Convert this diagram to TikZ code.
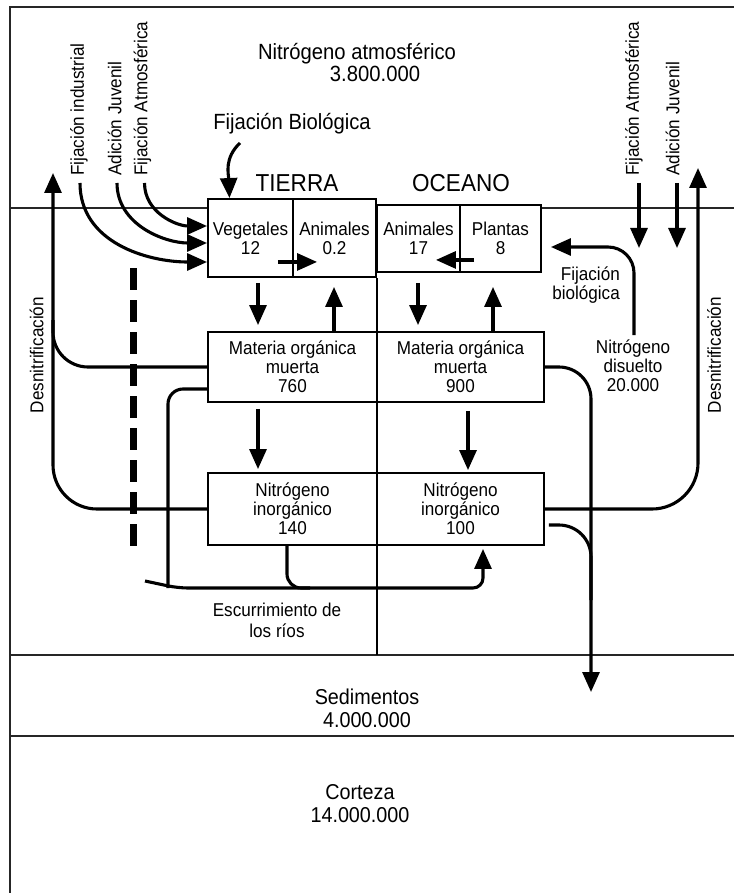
\documentclass[tikz,border=0pt]{standalone}
\usepackage{fontspec}
\setmainfont{Liberation Sans}[FakeStretch=0.92]
\usetikzlibrary{arrows.meta,calc}
\newcommand\txtA{\fontsize{18.6}{18.8}\selectfont}
\newcommand\txtB{\fontsize{21.5}{22.5}\selectfont}
\newcommand\txtC{\fontsize{22}{24}\selectfont}
\newcommand\txtD{\fontsize{24.5}{26}\selectfont}
\begin{document}
\begin{tikzpicture}[x=1pt,y=-1pt,
  rule/.style={line width=1.3pt, draw=black!85},
  cell/.style={draw, line width=1.9pt, inner sep=0pt, align=center, font=\txtA},
  flow/.style={line width=3.1pt, -{Triangle[length=20pt,width=17pt]}},
  pipe/.style={line width=3.1pt},
  lab/.style={inner sep=0pt, align=center, font=\txtA},
  vlab/.style={lab, rotate=90},
]
\useasboundingbox (0,0) rectangle (734,893);

% layer boundaries
\draw[rule] (10,893) -- (10,7) -- (734,7);
\draw[rule] (10,208) -- (208,208);
\draw[rule] (541,208) -- (734,208);
\draw[rule] (10,655) -- (734,655);
\draw[rule] (10,736) -- (734,736);

% reservoirs
\node[cell, minimum width=85pt, minimum height=78pt] (veg) at (250.5,238) {Vegetales\\12};
\node[cell, minimum width=83pt, minimum height=78pt] (anit) at (334.5,238) {Animales\\0.2};
\node[cell, minimum width=83pt, minimum height=67pt] (anio) at (418.5,238.5) {Animales\\17};
\node[cell, minimum width=81pt, minimum height=67pt] (plt) at (500.5,238.5) {Plantas\\8};
\node[cell, minimum width=169pt, minimum height=70pt] (momt) at (292.5,367) {Materia orgánica\\muerta\\760};
\node[cell, minimum width=167pt, minimum height=70pt] (momo) at (460.5,367) {Materia orgánica\\muerta\\900};
\node[cell, minimum width=169pt, minimum height=72pt] (nit) at (292.5,509) {Nitrógeno\\inorgánico\\140};
\node[cell, minimum width=167pt, minimum height=72pt] (nio) at (460.5,509) {Nitrógeno\\inorgánico\\100};

% land / ocean divider
\draw[line width=1.9pt] (377,0 |- anit.south) -- (377,655);

% titles and labels
\node[lab, font=\txtC, anchor=base] (atm) at (357,60) {Nitrógeno atmosférico};
\node[lab, font=\txtC, anchor=base] (atmq) at (375,82) {3.800.000};
\node[lab, font=\txtC, anchor=base] (fbio) at (292,130) {Fijación Biológica};
\node[lab, font=\txtD, anchor=base] (tierra) at (297,192) {TIERRA};
\node[lab, font=\txtD, anchor=base] (oceano) at (461,192) {OCEANO};
\node[lab, font=\txtB] (sed) at (367,708.5) {Sedimentos\\4.000.000};
\node[lab, font=\txtB] (crt) at (360,803.5) {Corteza\\14.000.000};
\node[lab, font=\fontsize{18.6}{21}\selectfont] (esc) at (277,620) {Escurrimiento de\\los ríos};
\node[lab, align=right, anchor=east] (fbo) at (620,285) {Fijación\\biológica};
\node[lab] (nd) at (633,366) {Nitrógeno\\disuelto\\20.000};

\node[vlab, anchor=west] (fi) at (79,176) {Fijación industrial};
\node[vlab, anchor=west] (aj) at (114.5,176) {Adición Juvenil};
\node[vlab, anchor=west] (fa) at (142.5,176) {Fijación Atmosférica};
\node[vlab, anchor=west] (fa2) at (634,176) {Fijación Atmosférica};
\node[vlab, anchor=west] (aj2) at (672.5,176) {Adición Juvenil};
\node[vlab] (dnl) at (36.5,355) {Desnitrificación};
\node[vlab] (dnr) at (714,355) {Desnitrificación};

% inputs from the atmosphere (land)
\draw[flow] ($(fi.west)+(1,7)$) .. controls +(0,60) and +(-59,0) .. ($(veg.west)+(0,24)$);
\draw[flow] ($(aj.west)+(2.5,7)$) .. controls +(0,42) and +(-42,0) .. ($(veg.west)+(0,5)$);
\draw[flow] ($(fa.west)+(2,7)$) .. controls +(0,30) and +(-30,0) .. ($(veg.west)+(0,-12)$);
\draw[flow] ($(fbio.base)+(-52,13)$) .. controls +(-16,15) and +(-1,-24) .. ($(veg.north)+(-21,0)$);

% inputs from the atmosphere (ocean)
\draw[flow] ($(fa2.west)+(5,7)$) -- ++(0,65);
\draw[flow] ($(aj2.west)+(4.5,7)$) -- ++(0,65);

% transfers between compartments
\draw[flow] ($(veg.south east)+(-16,-16)$) -- ($(anit.south west)+(25,-16)$);
\draw[flow] ($(plt.south west)+(15,-13)$) -- ($(anio.south east)+(-25,-13)$);
\draw[flow, shorten <=5pt, shorten >=6pt] (258,0 |- veg.south) -- (258,0 |- momt.north);
\draw[flow, shorten >=9pt] (334,0 |- momt.north) -- (334,0 |- anit.south);
\draw[flow, shorten <=10pt, shorten >=6pt] (418,0 |- anio.south) -- (418,0 |- momo.north);
\draw[flow, shorten >=14pt] (493,0 |- momo.north) -- (493,0 |- plt.south);
\draw[flow, shorten <=6pt, shorten >=3pt] (258,0 |- momt.south) -- (258,0 |- nit.north);
\draw[flow, shorten <=8pt, shorten >=2pt] (468,0 |- momo.south) -- (468,0 |- nio.north);

% denitrification
\draw[pipe, rounded corners=44pt] (nit.west) -| (53,320);
\draw[flow, rounded corners=35pt] (momt.west) -| (53,173);
\draw[flow, rounded corners=46pt] (nio.east) -| (698,168);

% dissolved nitrogen taken up by plants
\draw[flow, rounded corners=26pt] ($(nd.north)+(1,-5)$) |- ($(plt.east)+(9,8.5)$);

% burial to sediments
\draw[flow, rounded corners=32pt] (momo.east) -| (591,692);
\draw[pipe, rounded corners=32pt] ($(nio.east)+(4,16)$) -| (591,600);

% river runoff
\coordinate (rs) at (145,581);
\draw[pipe, rounded corners=15pt] ($(momt.west)+(0,22)$) -| (168,588);
\draw[pipe, rounded corners=14pt] (287,0 |- nit.south) |- (310,588);
\draw[flow, rounded corners=10pt] (rs) -- (178,588) -| ($(nio.south)+(22.5,3)$);

% coastline
\draw[line width=7pt, dash pattern=on 22pt off 10pt] (133,268) -- (133,547);
\end{tikzpicture}
\end{document}
